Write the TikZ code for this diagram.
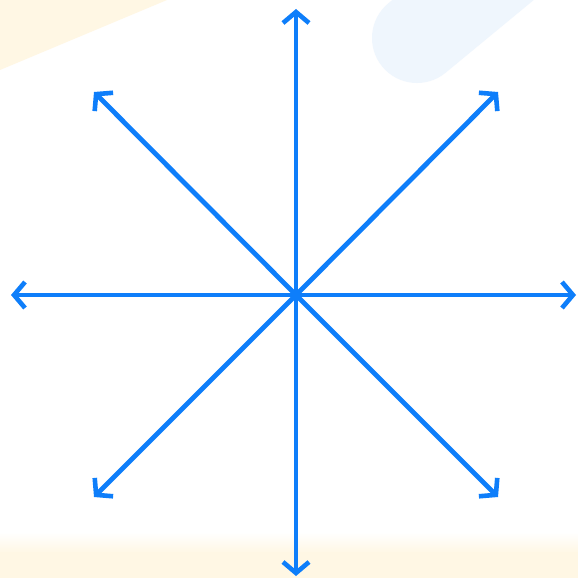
\documentclass[tikz,border=0pt]{standalone}
\usetikzlibrary{arrows.meta}
\definecolor{arrowblue}{RGB}{14,126,250}
\definecolor{paleyellow}{RGB}{255,247,228}
\definecolor{paleblue}{RGB}{239,246,253}
\tikzset{
  ray/.style={draw=arrowblue, line width=4.8pt, -{Straight Barb[length=11pt,width=26pt,line width=4.6pt]}},
}
\begin{document}
\begin{tikzpicture}[x=1pt,y=-1pt]
\useasboundingbox (0,0) rectangle (578,578);
\fill[white] (0,0) rectangle (578,578);
% background decorations
\fill[paleyellow] (0,0) -- (0,70) -- (167,0) -- cycle;
\draw[paleblue, line width=90pt, line cap=round] (417,38) -- (560,-80);
\shade[top color=white, bottom color=paleyellow] (0,532) rectangle (578,553);
\fill[paleyellow] (0,552) rectangle (578,578);
% arrows
\coordinate (c) at (296,295);
\coordinate (n) at (296,9);
\coordinate (s) at (296,576);
\coordinate (w) at (11,295);
\coordinate (e) at (576,295);
\coordinate (nw) at (94,92);
\coordinate (ne) at (498,92);
\coordinate (sw) at (94,497);
\coordinate (se) at (498,497);
\foreach \t in {n,s,w,e,nw,ne,sw,se} \draw[ray] (c) -- (\t);
\end{tikzpicture}
\end{document}
